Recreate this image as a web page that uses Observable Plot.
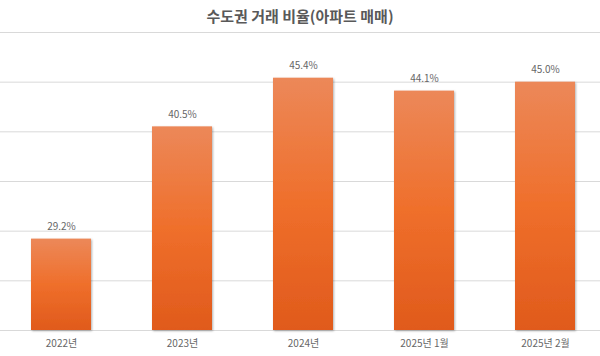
<!DOCTYPE html>
<html>
<head>
<meta charset="utf-8">
<script src="https://cdn.jsdelivr.net/npm/d3@7"></script>
<script src="https://cdn.jsdelivr.net/npm/@observablehq/plot@0.6"></script>
<style>
  html, body { margin: 0; padding: 0; background: #fff; overflow: hidden; }
  #title { height: 30px; line-height: 32px; text-align: center; font-family: "Noto Sans CJK KR", "Noto Sans", sans-serif; font-weight: bold; font-size: 15px; color: #595959; }
  #chart svg { display: block; }
</style>
</head>
<body>
<div id="title">수도권 거래 비율(아파트 매매)</div>
<div id="chart"></div>
<script>
const categories = ["2022년", "2023년", "2024년", "2025년 1월", "2025년 2월"];
const values = [29.2, 40.5, 45.4, 44.1, 45.0];
const valueLabels = ["29.2%", "40.5%", "45.4%", "44.1%", "45.0%"];
const gridTicks = [20, 25, 30, 35, 40, 45, 50];

const data = categories.map((c, i) => ({cat: c, v: values[i], label: valueLabels[i]}));

const defs = () => {
  const svg = d3.create("svg:g");
  const d = svg.append("defs");
  const g = d.append("linearGradient").attr("id", "barGrad").attr("x1", 0).attr("y1", 0).attr("x2", 0).attr("y2", 1);
  g.append("stop").attr("offset", "0%").attr("stop-color", "#EC8859");
  g.append("stop").attr("offset", "50%").attr("stop-color", "#EF6F2B");
  g.append("stop").attr("offset", "100%").attr("stop-color", "#E05A1C");
  const f = d.append("filter").attr("id", "shadow").attr("x", "-20%").attr("y", "-10%").attr("width", "140%").attr("height", "120%");
  f.append("feDropShadow").attr("dx", 1).attr("dy", 1).attr("stdDeviation", 1.2).attr("flood-color", "#000").attr("flood-opacity", 0.3);
  return svg.node();
};

const chart = Plot.plot({
  width: 600,
  height: 326,
  marginTop: 2,
  marginBottom: 26,
  marginLeft: 0,
  marginRight: 0,
  style: { fontFamily: "'Noto Sans CJK KR', 'Noto Sans', sans-serif", fontSize: "10px", color: "#666", background: "#fff" },
  x: { domain: categories, range: [0, 606], paddingInner: 0.505, paddingOuter: 0.2525, label: null },
  y: { domain: [20, 50], axis: null },
  marks: [
    defs,
    Plot.ruleY(gridTicks, { stroke: "#d9d9d9", strokeWidth: 1 }),
    Plot.barY(data, { x: "cat", y1: 20, y2: "v", fill: "url(#barGrad)", render: (index, scales, values, dims, ctx, next) => { const g = next(index, scales, values, dims, ctx); g.setAttribute("filter", "url(#shadow)"); return g; } }),
    Plot.text(data, { x: "cat", y: "v", text: "label", dy: -12, fill: "#666", fontSize: 10 }),
    Plot.axisX({ tickSize: 0, tickPadding: 9, fill: "#666", fontSize: 10, label: null })
  ]
});
document.getElementById("chart").appendChild(chart);
</script>
</body>
</html>
